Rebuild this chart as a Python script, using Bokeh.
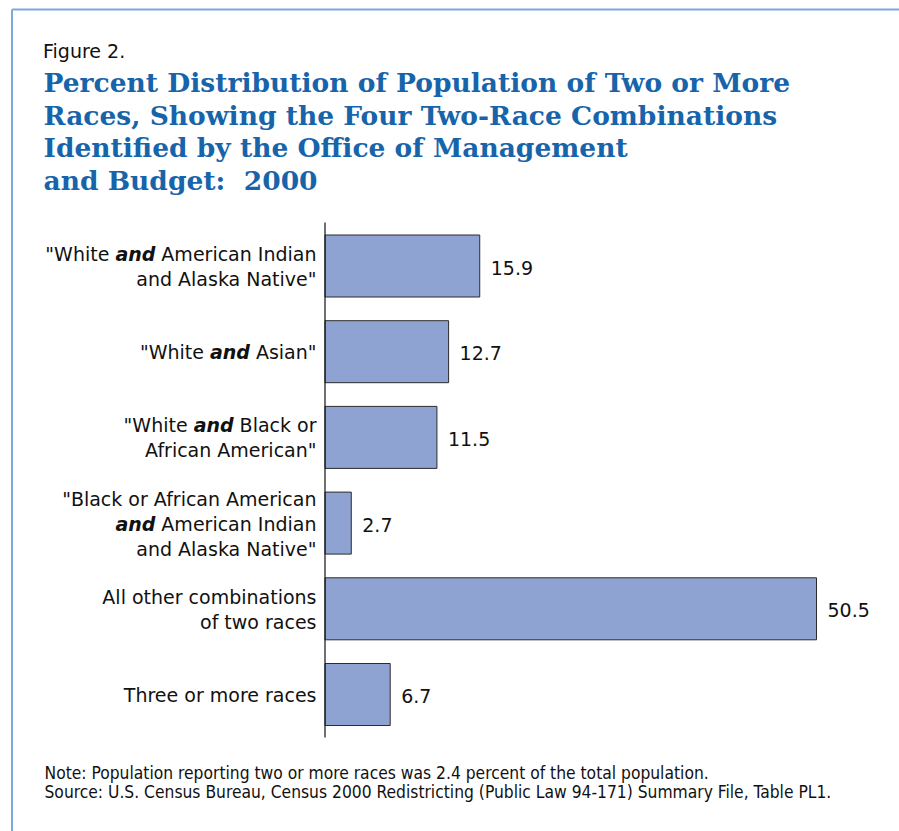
from bokeh.plotting import figure
from bokeh.models import Range1d
from bokeh.core.properties import value
from bokeh.embed import file_html
from bokeh.resources import INLINE

# ---------------- data ----------------
categories = [
    '"White and American Indian and Alaska Native"',
    '"White and Asian"',
    '"White and Black or African American"',
    '"Black or African American and American Indian and Alaska Native"',
    'All other combinations of two races',
    'Three or more races',
]
percent = [15.9, 12.7, 11.5, 2.7, 50.5, 6.7]
percent_labels = ["15.9", "12.7", "11.5", "2.7", "50.5", "6.7"]

# category label lines, split into segments ("n" normal, "bi" bold italic)
label_lines = [
    [[('"White', 'n'), ('and', 'bi'), ('American Indian', 'n')], [('and Alaska Native"', 'n')]],
    [[('"White', 'n'), ('and', 'bi'), ('Asian"', 'n')]],
    [[('"White', 'n'), ('and', 'bi'), ('Black or', 'n')], [('African American"', 'n')]],
    [[('"Black or African American', 'n')], [('and', 'bi'), ('American Indian', 'n')], [('and Alaska Native"', 'n')]],
    [[('All other combinations', 'n')], [('of two races', 'n')]],
    [[('Three or more races', 'n')]],
]

figure_label = "Figure 2."
title_lines = [
    "Percent Distribution of Population of Two or More",
    "Races, Showing the Four Two-Race Combinations",
    "Identified by the Office of Management",
    "and Budget:\u00a0 2000",
]
note_lines = [
    "Note: Population reporting two or more races was 2.4 percent of the total population.",
    "Source: U.S. Census Bureau, Census 2000 Redistricting (Public Law 94-171) Summary File, Table PL1.",
]

# ---------------- layout helpers ----------------
W, H = 899, 831
K = 491.5 / 50.5          # px per percent
X0 = 324.5                # px of 0 %
PITCH = 85.7              # px between bar centres
Y0 = 265.5                # px of first bar centre


def px2x(px):
    return (px - X0) / K


def px2y(py):
    return (py - Y0) / PITCH


# DejaVu Sans advance widths (units per em 2048) for segment placement
REG = {' ': 651, '"': 942, 'A': 1401, 'B': 1405, 'I': 604, 'a': 1255, 'c': 1126,
       'd': 1300, 'e': 1260, 'i': 569, 'k': 1186, 'l': 569, 'm': 1995, 'n': 1298,
       'o': 1253, 'r': 842, 's': 1067}
BOLD = {'a': 1382, 'n': 1458, 'd': 1466, ' ': 713}
LABEL_SIZE = 19


def text_w(s, style):
    table = BOLD if style == 'bi' else REG
    return sum(table.get(c, 1250) for c in s) * LABEL_SIZE / 2048.0


p = figure(width=W, height=H, output_backend="svg", toolbar_location=None,
           x_range=Range1d(px2x(0), px2x(W)),
           y_range=Range1d(px2y(H), px2y(0)),
           x_axis_location=None, y_axis_location=None,
           min_border=0, outline_line_color=None, background_fill_color="white",
           border_fill_color="white")
p.xgrid.visible = False
p.ygrid.visible = False

# frame lines (top and left)
frame_col = "#7ea8db"
p.segment(x0=[px2x(11.5), px2x(11.5)], y0=[px2y(9), px2y(9)],
          x1=[px2x(W + 5), px2x(11.5)], y1=[px2y(9), px2y(H + 5)],
          line_color=frame_col, line_width=2)

# bars
idx = list(range(len(percent)))
p.hbar(y=idx, left=0, right=percent, height=62 / PITCH,
       fill_color="#8fa3d2", line_color="#2b2b2b", line_width=1)

# vertical axis line
p.segment(x0=[0], y0=[px2y(222)], x1=[0], y1=[px2y(737)], line_color="#111111", line_width=1.2)

# value labels
p.text(x=[v + 11 / K for v in percent], y=[i + 1.5 / PITCH for i in idx], text=percent_labels,
       text_font=value("DejaVu Sans"), text_font_size="19px", text_color="#111111",
       text_align="left", text_baseline="alphabetic")

# category labels
R = px2x(316)
xs, ys, ts, styles = [], [], [], []
for i, lines in enumerate(label_lines):
    n = len(lines)
    for j, segs in enumerate(lines):
        base = i + (0.5 + 25 * (j - (n - 1) / 2)) / PITCH
        cursor = R
        for text, style in reversed(segs):
            xs.append(cursor)
            ys.append(base)
            ts.append(text)
            styles.append(style)
            cursor -= (text_w(text, style) + text_w(' ', 'n')) / K
for style, fs in (('n', 'normal'), ('bi', 'bold italic')):
    sel = [k for k in range(len(ts)) if styles[k] == style]
    p.text(x=[xs[k] for k in sel], y=[ys[k] for k in sel], text=[ts[k] for k in sel],
           text_font=value("DejaVu Sans"), text_font_size="19px", text_font_style=fs,
           text_color="#111111", text_align="right", text_baseline="alphabetic")

# header
p.text(x=[px2x(42.5)], y=[px2y(50.5)], text=[figure_label],
       text_font=value("DejaVu Sans"), text_font_size="19px", text_color="#111111",
       text_align="left", text_baseline="alphabetic")
p.text(x=[px2x(43)] * 4, y=[px2y(b) for b in (82, 114.5, 147, 179.5)], text=title_lines,
       text_font=value("DejaVu Serif"), text_font_size="26.5px", text_font_style="bold",
       text_color="#1864aa", text_align="left", text_baseline="alphabetic")

# footer
p.text(x=[px2x(44)] * 2, y=[px2y(772.5), px2y(791.5)], text=note_lines,
       text_font=value("DejaVu Sans Condensed"), text_font_size="17.3px", text_color="#111111",
       text_align="left", text_baseline="alphabetic")

open("out.html", "w").write(file_html(p, INLINE))
